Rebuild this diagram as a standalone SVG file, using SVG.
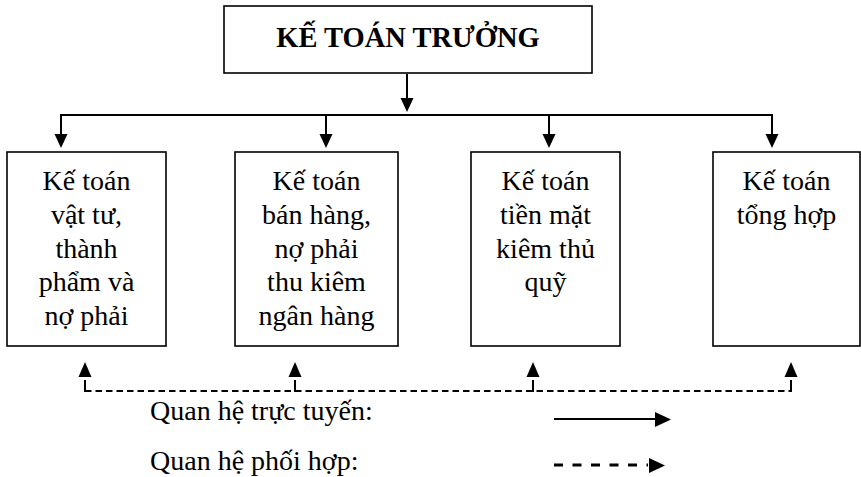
<svg xmlns="http://www.w3.org/2000/svg" width="861" height="477" viewBox="0 0 861 477">
<style>
.box{fill:#fff;stroke:#000;stroke-width:1.6}
.t{font-family:"Liberation Serif","Times New Roman",serif;font-size:28px;fill:#000;text-anchor:middle}
.ttl{font-weight:bold;font-size:28.5px}
.ln{stroke:#000;stroke-width:2;fill:none}
.dl{stroke:#000;stroke-width:2;fill:none;stroke-dasharray:6.5 4}
.dl2{stroke:#000;stroke-width:3;fill:none;stroke-dasharray:9 9.5}
.ah{fill:#000}
.lg{font-family:"Liberation Serif","Times New Roman",serif;font-size:28px;fill:#000}
</style>
<rect width="861" height="477" fill="#fff"/>
<g id="n0">
<rect class="box" x="224" y="6" width="368" height="67"/>
<text class="t ttl" x="408" y="47">KẾ TOÁN TRƯỞNG</text>
</g>
<g id="n1">
<rect class="box" x="7" y="152" width="159" height="194"/>
<text class="t" x="86.5" y="190">Kế toán</text>
<text class="t" x="86.5" y="224">vật tư,</text>
<text class="t" x="86.5" y="258">thành</text>
<text class="t" x="86.5" y="291">phẩm và</text>
<text class="t" x="86.5" y="325">nợ phải</text>
</g>
<g id="n2">
<rect class="box" x="235" y="152" width="163" height="194"/>
<text class="t" x="316.5" y="190">Kế toán</text>
<text class="t" x="316.5" y="224">bán hàng,</text>
<text class="t" x="316.5" y="258">nợ phải</text>
<text class="t" x="316.5" y="291">thu kiêm</text>
<text class="t" x="316.5" y="325">ngân hàng</text>
</g>
<g id="n3">
<rect class="box" x="471" y="152" width="149" height="194"/>
<text class="t" x="545.5" y="190">Kế toán</text>
<text class="t" x="545.5" y="224">tiền mặt</text>
<text class="t" x="545.5" y="258">kiêm thủ</text>
<text class="t" x="545.5" y="291">quỹ</text>
</g>
<g id="n4">
<rect class="box" x="713" y="152" width="147" height="194"/>
<text class="t" x="786.5" y="190">Kế toán</text>
<text class="t" x="786.5" y="224">tổng hợp</text>
</g>
<g id="connectors">
<line class="ln" x1="407" y1="74" x2="407" y2="99"/>
<polygon class="ah" points="400.5,98 413.5,98 407,112"/>
<line class="ln" x1="60" y1="115" x2="773" y2="115"/>
<line class="ln" x1="61" y1="114" x2="61" y2="135"/>
<polygon class="ah" points="54.5,134 67.5,134 61,148"/>
<line class="ln" x1="326" y1="114" x2="326" y2="135"/>
<polygon class="ah" points="319.5,134 332.5,134 326,148"/>
<line class="ln" x1="549" y1="114" x2="549" y2="135"/>
<polygon class="ah" points="542.5,134 555.5,134 549,148"/>
<line class="ln" x1="772" y1="114" x2="772" y2="135"/>
<polygon class="ah" points="765.5,134 778.5,134 772,148"/>
<line class="dl" x1="85" y1="391" x2="791" y2="391"/>
<line class="ln" x1="85" y1="380" x2="85" y2="392"/>
<polygon class="ah" points="78.5,377 91.5,377 85,362"/>
<line class="ln" x1="295" y1="380" x2="295" y2="392"/>
<polygon class="ah" points="288.5,377 301.5,377 295,362"/>
<line class="ln" x1="533" y1="380" x2="533" y2="392"/>
<polygon class="ah" points="526.5,377 539.5,377 533,362"/>
<line class="ln" x1="791" y1="380" x2="791" y2="392"/>
<polygon class="ah" points="784.5,377 797.5,377 791,362"/>
</g>
<g id="legend">
<text class="lg" x="150" y="420">Quan hệ trực tuyến:</text>
<text class="lg" x="150" y="470">Quan hệ phối hợp:</text>
<line class="ln" x1="554" y1="419" x2="657" y2="419"/>
<polygon class="ah" points="655,412 655,427 671,419.5"/>
<line class="dl2" x1="554" y1="465" x2="648" y2="465"/>
<polygon class="ah" points="649,458 649,473 665,465.5"/>
</g>
</svg>
